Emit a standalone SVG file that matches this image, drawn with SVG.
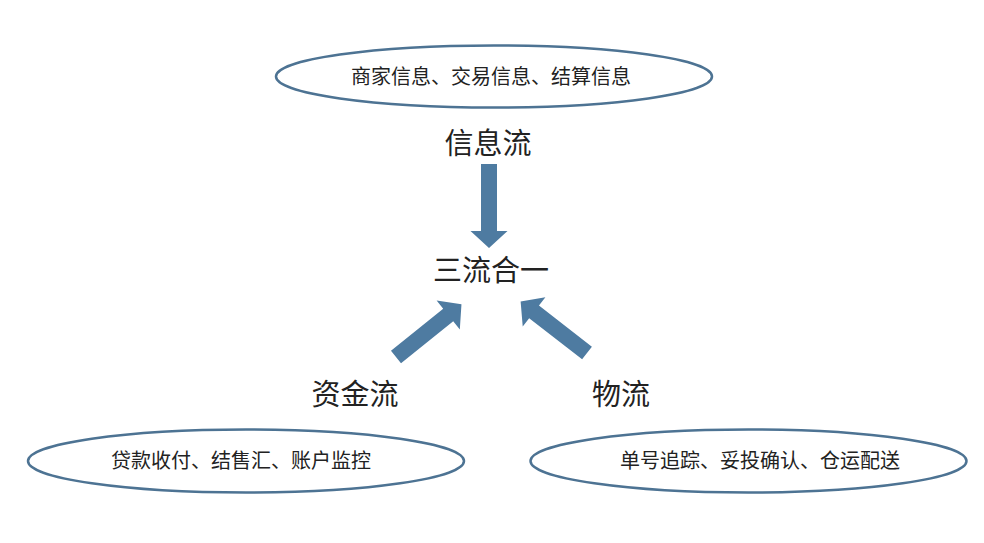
<svg xmlns="http://www.w3.org/2000/svg" width="984" height="543" viewBox="0 0 984 543">
  <defs>
    <style>
      .ell { fill: #ffffff; stroke: #4d7393; stroke-width: 2.5; }
      .small { font-family: "Noto Sans CJK SC", "Noto Sans", sans-serif; font-size: 20px; fill: #222222; text-anchor: middle; }
      .big { font-family: "Noto Sans CJK SC", "Noto Sans", sans-serif; font-size: 29px; fill: #222222; text-anchor: middle; }
      .arrow { fill: #4e7ba1; }
    </style>
    <path id="arr" d="M0,-8 L67,-8 L67,-18.5 L84,0 L67,18.5 L67,8 L0,8 Z"/>
  </defs>
  <rect width="984" height="543" fill="#ffffff"/>

  <g id="info-detail">
    <ellipse class="ell" cx="494" cy="76.5" rx="218" ry="31"/>
    <text class="small" x="491" y="84">商家信息、交易信息、结算信息</text>
  </g>
  <g id="info-flow">
    <text class="big" x="488" y="154">信息流</text>
  </g>
  <g id="merge">
    <text class="big" x="491" y="281">三流合一</text>
  </g>
  <g id="fund-flow">
    <text class="big" x="355" y="405">资金流</text>
  </g>
  <g id="logistics-flow">
    <text class="big" x="621" y="405">物流</text>
  </g>
  <g id="fund-detail">
    <ellipse class="ell" cx="246" cy="461" rx="218" ry="31.5"/>
    <text class="small" x="241" y="468">贷款收付、结售汇、账户监控</text>
  </g>
  <g id="logistics-detail">
    <ellipse class="ell" cx="748.5" cy="461" rx="218" ry="31.5"/>
    <text class="small" x="760" y="468">单号追踪、妥投确认、仓运配送</text>
  </g>

  <g id="connectors">
    <use href="#arr" class="arrow" transform="translate(489,164) rotate(90)"/>
    <use href="#arr" class="arrow" transform="translate(396,357) rotate(-38.8)"/>
    <use href="#arr" class="arrow" transform="translate(587,353) rotate(-142.2)"/>
  </g>
</svg>
